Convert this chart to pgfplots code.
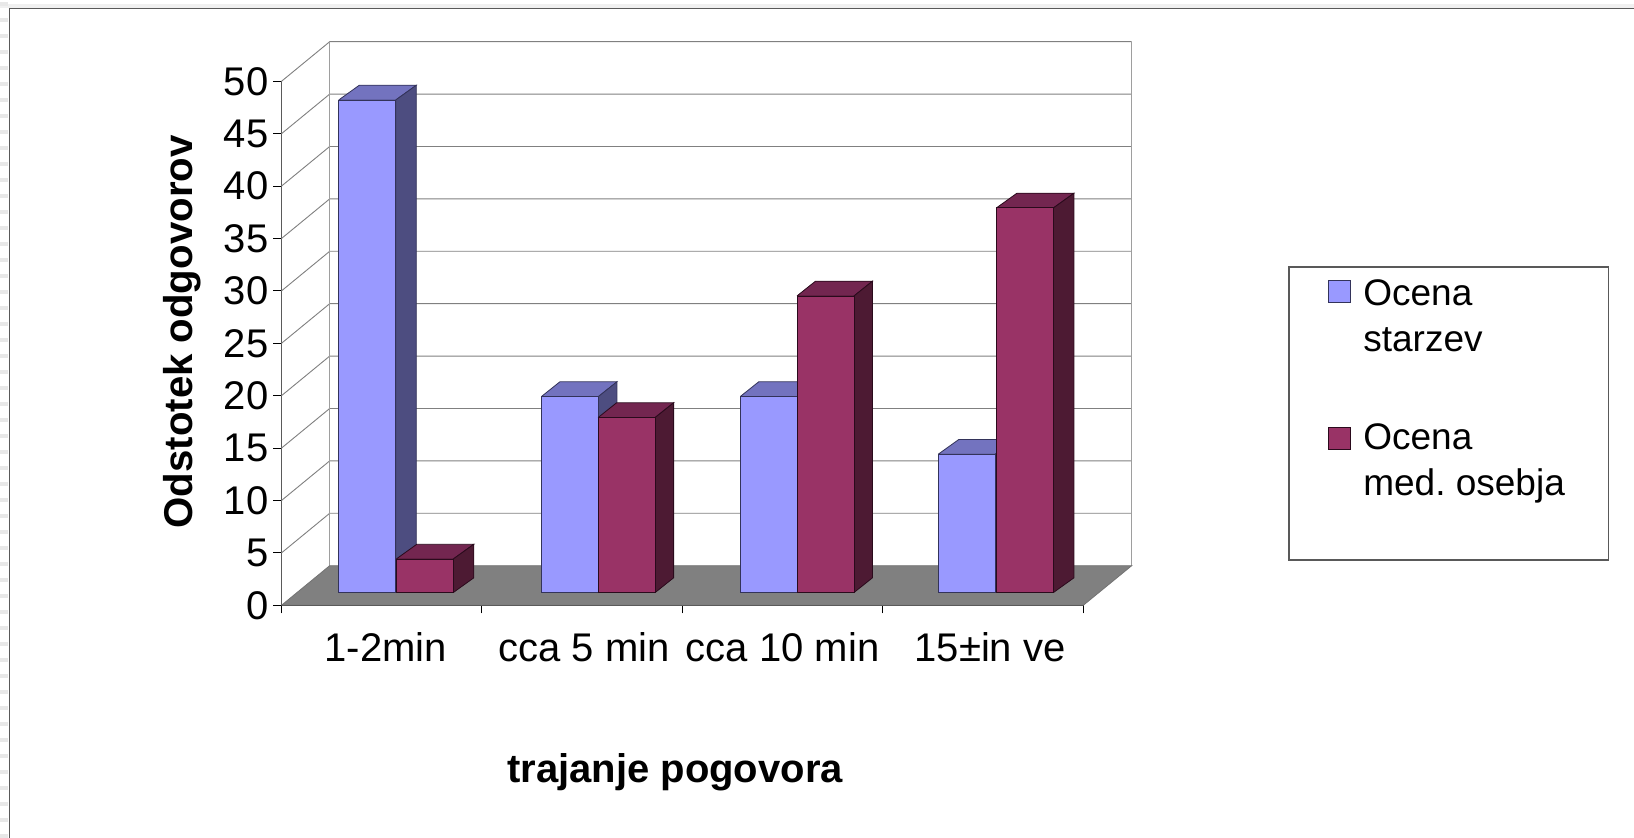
\documentclass[border=0pt]{standalone}
\usepackage{fontspec}
\setmainfont{Liberation Sans}
\usepackage{pgfplots}
\usepackage{pgfplotstable}
\pgfplotsset{compat=1.18}

\definecolor{blueface}{HTML}{9999FF}
\definecolor{bluetop}{HTML}{7373BF}
\definecolor{blueside}{HTML}{4D4D80}
\definecolor{blueedge}{HTML}{33335A}
\definecolor{redface}{HTML}{993366}
\definecolor{redtop}{HTML}{732650}
\definecolor{redside}{HTML}{4D1A33}
\definecolor{rededge}{HTML}{2A0A1C}
\definecolor{wallline}{HTML}{808080}

\pgfplotsset{redswatch/.style={
  legend image code/.code={
    \draw[##1, line width=0.4pt, overlay] (0pt,11.75pt) rectangle (11pt,22.75pt);
    \path[draw=none, fill=none] (0pt,0pt) -- (11pt,0pt);
  }}}

% x position of bar centre, value
\pgfplotstableread{
x v
0.428 47.0
1.439 18.7
2.431 18.7
3.419 13.2
}\starzev
\pgfplotstableread{
x v
0.715 3.2
1.722 16.7
2.714 28.3
3.709 36.7
}\osebje

% top and side faces of a bar: centre, value, top colour, side colour, edge colour, depth
\newcommand{\depthfaces}[6]{%
  \pgfmathsetmacro{\xl}{#1-0.14225}%
  \pgfmathsetmacro{\xr}{#1+0.14225}%
  \pgfmathsetmacro{\xlb}{\xl+#6}%
  \pgfmathsetmacro{\xrb}{\xr+#6}%
  \pgfmathsetmacro{\yf}{#2+1.221}%
  \pgfmathsetmacro{\yb}{#2+2.624}%
  \addplot[forget plot, fill=#3, draw=#5, line width=0.4pt] coordinates {(\xl,\yf) (\xr,\yf) (\xrb,\yb) (\xlb,\yb) (\xl,\yf)};
  \addplot[forget plot, fill=#4, draw=#5, line width=0.4pt] coordinates {(\xr,1.221) (\xrb,2.624) (\xrb,\yb) (\xr,\yf) (\xr,1.221)};
}

\begin{document}
\begin{tikzpicture}
\useasboundingbox (0,0) rectangle (817pt,419pt);
\fill[white] (0,0) rectangle (817pt,419pt);
% window frame round the picture
\fill[gray!12] (0,415pt) rectangle (817pt,417pt);
\foreach \i in {0,...,52} {
  \fill[gray!18] (0,{\i*8pt}) rectangle (4.2pt,{\i*8pt+2pt});
}
\draw[black!65, line width=0.9pt] (4.75pt,0) -- (4.75pt,414.75pt) -- (817pt,414.75pt);

\begin{axis}[
  at={(140.75pt,116.35pt)},
  anchor=south west,
  scale only axis,
  width=400.9pt,
  height=262pt,
  xmin=0, xmax=4,
  ymin=0, ymax=50,
  clip=false,
  axis x line=bottom,
  axis y line=left,
  axis line style={-, black, line width=0.5pt},
  tick align=outside,
  major tick length=4pt,
  tick style={black, line width=0.5pt},
  xtick={0,1,2,3,4},
  xticklabels={},
  extra x ticks={0.52,1.51,2.50,3.535},
  extra x tick labels={1-2min,cca 5 min,cca 10 min,15±in ve},
  extra x tick style={major tick length=0pt, xticklabel style={yshift=-10pt}},
  ytick={0,5,...,50},
  tick label style={font=\fontsize{20}{24}\selectfont},
  yticklabel style={xshift=1pt},
  /pgf/number format/assume math mode=true,
  every axis x label/.style={at={(axis description cs:0.4908,-0.339)}, anchor=base},
  every axis y label/.style={at={(axis description cs:-0.1104,0.5216)}, anchor=base, rotate=90},
  xlabel={\fontsize{20}{24}\selectfont\bfseries trajanje pogovora},
  ylabel={\fontsize{20.1}{24}\selectfont\bfseries Odstotek odgovorov},
  legend style={
    at={(rel axis cs:1.2557,0.6466)}, anchor=north west,
    draw=black!65, line width=0.6pt, fill=white,
    inner xsep=19.7pt, inner ysep=4.2pt,
    row sep=31pt, column sep=4.5pt,
    font=\fontsize{18.5}{22.85}\selectfont,
    nodes={align=left},
  },
  legend cell align=left,
  legend image code/.code={
    \draw[#1, line width=0.4pt, overlay] (0pt,0.75pt) rectangle (11pt,11.75pt);
    \path[draw=none, fill=none] (0pt,0pt) -- (11pt,0pt);
  },
]
% back wall and side wall
\addplot[forget plot, fill=white, draw=none] coordinates {(0,0) (0.2405,3.78) (4.2415,3.78) (4.2415,53.78) (0.2405,53.78) (0,50) (0,0)};
\pgfplotsinvokeforeach{5,10,...,50}{
  \pgfmathsetmacro{\yback}{#1+3.78}
  \addplot[forget plot, wallline, line width=0.45pt] coordinates {(0,#1) (0.2405,\yback) (4.2415,\yback)};
}
\addplot[forget plot, black!38, line width=0.6pt] coordinates {(0.2405,3.78) (0.2405,53.78)};
\addplot[forget plot, black!38, line width=0.6pt] coordinates {(4.2415,3.78) (4.2415,53.78)};
% floor
\addplot[forget plot, fill=black!50, draw=black!55, line width=0.4pt] coordinates {(0,0) (4,0) (4.2415,3.78) (0.2405,3.78) (0,0)};

% series starzev: depth first, then the fronts
\depthfaces{0.428}{47.0}{bluetop}{blueside}{blueedge}{0.1023}
\depthfaces{1.439}{18.7}{bluetop}{blueside}{blueedge}{0.092}
\depthfaces{2.431}{18.7}{bluetop}{blueside}{blueedge}{0.092}
\depthfaces{3.419}{13.2}{bluetop}{blueside}{blueedge}{0.1023}
\addplot[ybar, bar width=0.2845, bar shift=0pt, yshift=6.4pt, fill=blueface, draw=blueedge, line width=0.4pt] table[x=x,y=v] {\starzev};
\addlegendentry{Ocena\\starzev}

% series osebje
\depthfaces{0.715}{3.2}{redtop}{redside}{rededge}{0.1023}
\depthfaces{1.722}{16.7}{redtop}{redside}{rededge}{0.092}
\depthfaces{2.714}{28.3}{redtop}{redside}{rededge}{0.092}
\depthfaces{3.709}{36.7}{redtop}{redside}{rededge}{0.1023}
\addplot[redswatch, ybar, bar width=0.2845, bar shift=0pt, yshift=6.4pt, fill=redface, draw=rededge, line width=0.4pt] table[x=x,y=v] {\osebje};
\addlegendentry{Ocena\\med.\ osebja\\[1.65pt]\mbox{}}
\end{axis}
\end{tikzpicture}
\end{document}
